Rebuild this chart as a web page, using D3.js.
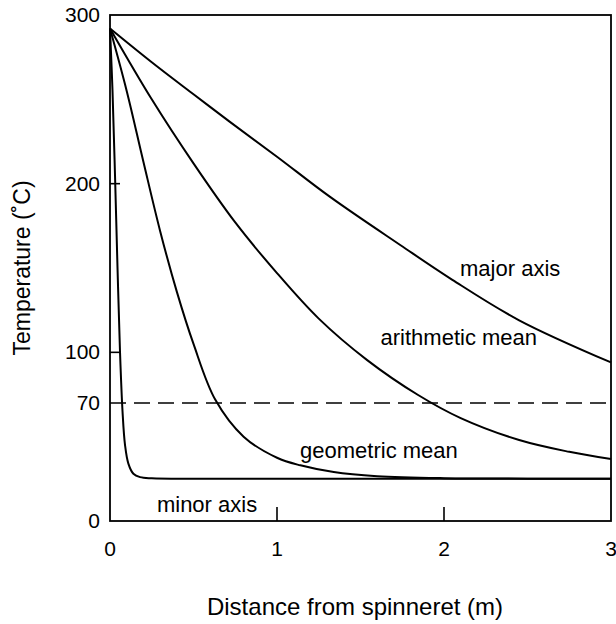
<!DOCTYPE html>
<html>
<head>
<meta charset="utf-8">
<script src="https://d3js.org/d3.v7.min.js"></script>
<style>
  body { margin: 0; background: #fff; }
  text { font-family: "Liberation Sans", Arial, sans-serif; fill: #000; }
</style>
</head>
<body>
<div id="chart"></div>
<script>
// distance from spinneret (m) and temperature (C) for each curve
var majorX = [0, 0.25, 0.5, 0.72, 1.0, 1.32, 1.74, 2.05, 2.45, 3];
var majorT = [292, 272, 253, 236.5, 216, 192, 163.5, 143, 119, 94];

var arithX = [0, 0.25, 0.5, 0.75, 1.0, 1.25, 1.54, 1.845, 2.1, 2.45, 2.75, 3];
var arithT = [292, 250, 212, 177, 147, 120, 95.4, 74.7, 61, 48, 41, 36.7];

var geoX = [0, 0.1, 0.2, 0.3, 0.4, 0.5, 0.63, 0.8, 1.0, 1.14, 1.34, 1.6, 2.0, 2.5, 3];
var geoT = [292, 255, 213, 172, 136, 105, 72, 50, 37.5, 33, 29, 26.6, 25.4, 25.1, 25];

var minorX = [0, 0.015, 0.03, 0.045, 0.06, 0.075, 0.09, 0.11, 0.14, 0.18, 0.25, 0.5, 1, 2, 3];
var minorT = [292, 255, 205, 150, 100, 65, 45, 34, 28, 26, 25.3, 25, 25, 25, 25];

var xTicks = [0, 1, 2, 3];
var yTickLabels = [0, 70, 100, 200, 300];
var yInnerTicks = [100, 200];
var xInnerTicks = [1, 2];
var refTemp = 70;

var labels = [
  { text: "major axis", x: 2.096, t: 145 },
  { text: "arithmetic mean", x: 1.62, t: 104.5 },
  { text: "geometric mean", x: 1.138, t: 37.5 },
  { text: "minor axis", x: 0.281, t: 5.5 }
];

var W = 616, H = 624;
var svg = d3.select("#chart").append("svg").attr("width", W).attr("height", H);

var x = d3.scaleLinear().domain([0, 3]).range([110, 611]);
var y = d3.scaleLinear().domain([0, 300]).range([521, 15]);

// frame
svg.append("rect")
  .attr("x", x(0)).attr("y", y(300))
  .attr("width", x(3) - x(0)).attr("height", y(0) - y(300))
  .attr("fill", "none").attr("stroke", "#000").attr("stroke-width", 1.8);

// inner ticks
svg.selectAll(".ytick").data(yInnerTicks).enter().append("line")
  .attr("x1", x(0)).attr("x2", x(0) + 10)
  .attr("y1", function (d) { return y(d); }).attr("y2", function (d) { return y(d); })
  .attr("stroke", "#000").attr("stroke-width", 1.6);
svg.selectAll(".xtick").data(xInnerTicks).enter().append("line")
  .attr("x1", function (d) { return x(d); }).attr("x2", function (d) { return x(d); })
  .attr("y1", y(0)).attr("y2", y(0) - 14)
  .attr("stroke", "#000").attr("stroke-width", 1.6);

// tick labels
svg.selectAll(".ylab").data(yTickLabels).enter().append("text")
  .attr("x", 100).attr("y", function (d) { return y(d) + 7; })
  .attr("text-anchor", "end").style("font-size", "21px")
  .text(function (d) { return d; });
svg.selectAll(".xlab").data(xTicks).enter().append("text")
  .attr("x", function (d) { return x(d); }).attr("y", 556)
  .attr("text-anchor", "middle").style("font-size", "21px")
  .text(function (d) { return d; });

// axis titles
svg.append("text").attr("x", 355).attr("y", 615)
  .attr("text-anchor", "middle").style("font-size", "24px")
  .text("Distance from spinneret (m)");
svg.append("text")
  .attr("transform", "translate(30,268) rotate(-90)")
  .attr("text-anchor", "middle").style("font-size", "23px")
  .text("Temperature (\u02DAC)");

// dashed reference line
svg.append("line")
  .attr("x1", x(0)).attr("x2", x(3))
  .attr("y1", y(refTemp)).attr("y2", y(refTemp))
  .attr("stroke", "#000").attr("stroke-width", 1.6)
  .attr("stroke-dasharray", "16,8");

// curves
var line = d3.line()
  .x(function (d) { return x(d[0]); })
  .y(function (d) { return y(d[1]); })
  .curve(d3.curveCatmullRom.alpha(0.5));

[[majorX, majorT], [arithX, arithT], [geoX, geoT], [minorX, minorT]].forEach(function (s) {
  svg.append("path")
    .datum(d3.zip(s[0], s[1]))
    .attr("d", line)
    .attr("fill", "none").attr("stroke", "#000").attr("stroke-width", 2);
});

// curve labels
svg.selectAll(".clab").data(labels).enter().append("text")
  .attr("x", function (d) { return x(d.x); })
  .attr("y", function (d) { return y(d.t); })
  .style("font-size", "22px")
  .text(function (d) { return d.text; });
</script>
</body>
</html>
